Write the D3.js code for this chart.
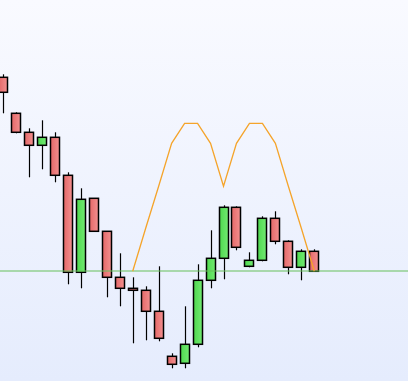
<!DOCTYPE html>
<html>
<head>
<meta charset="utf-8">
<script src="https://cdn.jsdelivr.net/npm/d3@7"></script>
<style>
  html, body { margin: 0; padding: 0; overflow: hidden; }
  svg { display: block; }
</style>
</head>
<body>
<svg id="chart" width="408" height="381"></svg>
<script>
// candle data
const openVals  = [119.4, 115.8, 113.9, 112.6, 113.4, 109.6,  99.9, 107.3, 104.0,  99.4,  98.3,  98.1,  96.0,  91.5,  90.8,  92.7,  99.1, 101.3, 106.4, 100.5, 101.1, 105.3, 103.0, 100.4, 102.0];
const highVals  = [119.7, 115.9, 114.3, 115.1, 113.9, 109.9, 108.3, 107.3, 104.0, 101.8,  99.4,  98.5, 100.5,  91.8,  96.5, 100.7, 104.1, 106.6, 106.5, 101.9, 105.5, 106.0, 103.1, 102.2, 102.2];
const lowVals   = [115.8, 113.8, 109.4, 110.2, 108.9,  98.7,  98.3, 104.0,  97.4,  96.5,  92.8,  93.1,  93.0,  90.3,  90.3,  92.4,  98.3,  99.2, 102.1, 100.4, 101.0, 102.7,  99.7,  99.1, 100.0];
const closeVals = [117.9, 113.9, 112.6, 113.4, 109.6,  99.9, 107.2, 104.0,  99.4,  98.3,  98.1,  96.0,  93.3,  90.7,  92.7,  99.1, 101.3, 106.4, 102.4, 101.1, 105.3, 103.0, 100.4, 102.0, 100.0];
// orange indicator line, starts at candle 11
const lineStart = 10;
const lineVals  = [100.0, 104.3, 108.5, 112.8, 114.8, 114.8, 112.8, 108.5, 112.8, 114.8, 114.8, 112.8, 108.5, 104.3, 100.0];
const lastPrice = 100.0;

const width = 408, height = 381;
const svg = d3.select("#chart");

const candles = openVals.map((o, i) => ({
  i: i, open: o, high: highVals[i], low: lowVals[i], close: closeVals[i]
}));

const x = d3.scaleLinear().domain([0, candles.length - 1]).range([3, 314.3]);
const y = d3.scaleLinear().domain([89, 127]).range([381.3, 1.3]);

// gradients
const defs = svg.append("defs");
const bg = defs.append("linearGradient").attr("id", "bg")
  .attr("x1", 0).attr("y1", 0).attr("x2", 0).attr("y2", 1);
bg.append("stop").attr("offset", "0%").attr("stop-color", "#f9faff");
bg.append("stop").attr("offset", "100%").attr("stop-color", "#e5ecfd");

const up = defs.append("linearGradient").attr("id", "up")
  .attr("x1", 0).attr("y1", 0).attr("x2", 1).attr("y2", 0);
up.append("stop").attr("offset", "0%").attr("stop-color", "#4fd84f");
up.append("stop").attr("offset", "100%").attr("stop-color", "#72ea72");

const down = defs.append("linearGradient").attr("id", "down")
  .attr("x1", 0).attr("y1", 0).attr("x2", 1).attr("y2", 0);
down.append("stop").attr("offset", "0%").attr("stop-color", "#e46868");
down.append("stop").attr("offset", "100%").attr("stop-color", "#f39090");

svg.append("rect")
  .attr("width", width)
  .attr("height", height)
  .attr("fill", "url(#bg)");

const px = v => Math.round(v) + 0.5;

const g = svg.append("g");

// wicks
g.selectAll(".wick")
  .data(candles)
  .enter()
  .append("line")
  .attr("class", "wick")
  .attr("x1", d => px(x(d.i)))
  .attr("x2", d => px(x(d.i)))
  .attr("y1", d => y(d.high))
  .attr("y2", d => y(d.low))
  .attr("stroke", "#000")
  .attr("stroke-width", 1.2);

// bodies
g.selectAll(".body")
  .data(candles)
  .enter()
  .append("rect")
  .attr("class", "body")
  .attr("x", d => Math.round(x(d.i)) - 4.5)
  .attr("width", 9)
  .attr("y", d => y(Math.max(d.open, d.close)))
  .attr("height", d => Math.max(1, Math.abs(y(d.open) - y(d.close))))
  .attr("fill", d => d.close >= d.open ? "url(#up)" : "url(#down)")
  .attr("stroke", "#000")
  .attr("stroke-width", 1.5);

// last price line
svg.append("line")
  .attr("x1", 0)
  .attr("x2", width)
  .attr("y1", px(y(lastPrice)) - 0.5)
  .attr("y2", px(y(lastPrice)) - 0.5)
  .attr("stroke", "#66c05a")
  .attr("stroke-width", 1.2);

// orange line
const line = d3.line()
  .x((d, k) => x(lineStart + k))
  .y(d => y(d));

svg.append("path")
  .datum(lineVals)
  .attr("d", line)
  .attr("fill", "none")
  .attr("stroke", "#f5a42a")
  .attr("stroke-width", 1.3);
</script>
</body>
</html>
